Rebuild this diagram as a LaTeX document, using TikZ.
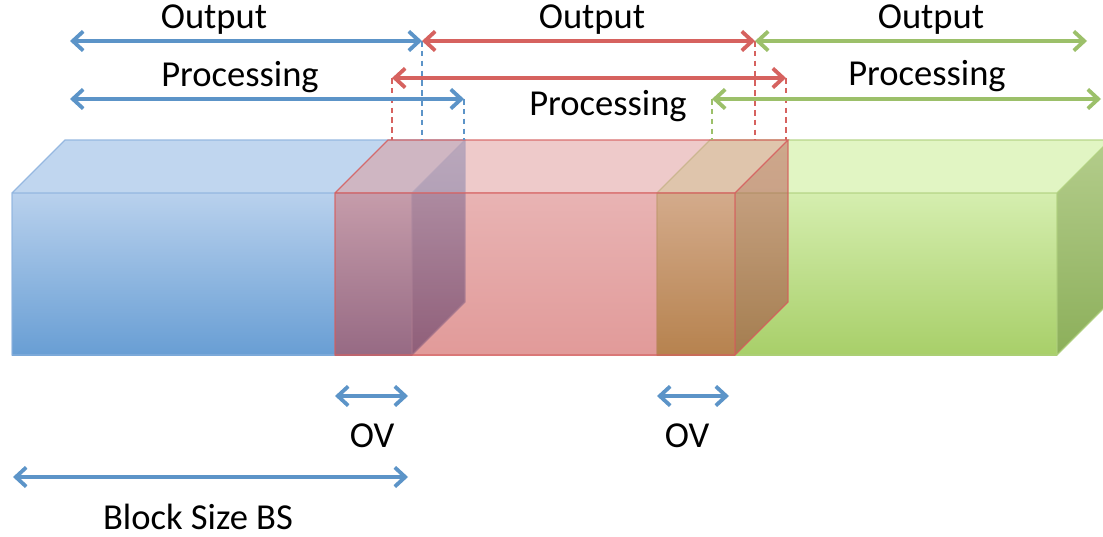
\documentclass[tikz,border=0pt]{standalone}
\usepackage{fontspec}
\setmainfont{Carlito}
\usetikzlibrary{arrows.meta}

\definecolor{bluA}{RGB}{92,148,200}
\definecolor{redA}{RGB}{214,98,95}
\definecolor{grnA}{RGB}{156,192,106}
\definecolor{bluT}{RGB}{185,209,237}
\definecolor{bluB}{RGB}{104,158,212}
\definecolor{bluU}{RGB}{192,214,239}
\definecolor{bluRT}{RGB}{150,185,225}
\definecolor{bluRB}{RGB}{90,135,190}
\definecolor{bluE}{RGB}{140,178,222}
\definecolor{grnT}{RGB}{213,238,175}
\definecolor{grnB}{RGB}{168,207,105}
\definecolor{grnU}{RGB}{225,245,195}
\definecolor{grnRT}{RGB}{180,205,140}
\definecolor{grnRB}{RGB}{140,175,90}
\definecolor{grnE}{RGB}{175,208,125}
\definecolor{redT}{RGB}{211,105,105}
\definecolor{redB}{RGB}{197,55,53}
\definecolor{redU}{RGB}{223,151,151}
\definecolor{redRT}{RGB}{187,92,85}
\definecolor{redRB}{RGB}{162,45,55}
\definecolor{redE}{RGB}{214,92,92}

\begin{document}
\begin{tikzpicture}[x=0.025cm,y=-0.025cm,
  dim/.style={{Straight Barb[length=2.6mm,width=4.8mm]}-{Straight Barb[length=2.6mm,width=4.8mm]},line width=2.7pt},
  guide/.style={dash pattern=on 4pt off 3pt,line width=0.9pt},
  lbl/.style={font=\fontsize{26}{31}\selectfont,anchor=base,inner sep=0pt}]
\clip (0,0) rectangle (1103,537);
\fill[white] (0,0) rectangle (1103,537);
% three blocks, the middle one see-through
\foreach \x/\col/\op in {12/blu/1,657/grn/1,335/red/0.5}{
  \shade[top color=\col T,bottom color=\col B,fill opacity=\op] (\x,193) rectangle (\x+400,355);
  \fill[\col U,fill opacity=\op] (\x,193) -- (\x+53,140) -- (\x+453,140) -- (\x+400,193) -- cycle;
  \shade[top color=\col RT,bottom color=\col RB,fill opacity=\op] (\x+400,193) -- (\x+453,140) -- (\x+453,302) -- (\x+400,355) -- cycle;
  \draw[\col E,line width=0.8pt,draw opacity=0.85] (\x,193) rectangle (\x+400,355)
    (\x,193) -- (\x+53,140) -- (\x+453,140) -- (\x+400,193) (\x+453,140) -- (\x+453,302) -- (\x+400,355);
}
\coordinate (bo1) at (70,41);   \coordinate (bo2) at (422,41);
\coordinate (ro2) at (755,41);  \coordinate (go2) at (1087,41);
\coordinate (bp1) at (70,99);   \coordinate (bp2) at (464,99);
\coordinate (rp1) at (392,78);  \coordinate (rp2) at (786,78);
\coordinate (gp1) at (712,99);  \coordinate (gp2) at (1101,99);
\foreach \c/\col in {bo2/bluA,bp2/bluA,rp1/redA,ro2/redA,rp2/redA,gp1/grnA}
  \draw[guide,\col] (\c) -- (\c |- 0,140);
\draw[dim,bluA] (bo1) -- (bo2);
\draw[dim,redA] (bo2) -- (ro2);
\draw[dim,grnA] (ro2) -- (go2);
\draw[dim,bluA] (bp1) -- (bp2);
\draw[dim,redA] (rp1) -- (rp2);
\draw[dim,grnA] (gp1) -- (gp2);
\node[lbl] (outA) at (214,29) {Output};
\node[lbl] (outB) at (592,29) {Output};
\node[lbl] (outC) at (931,29) {Output};
\node[lbl] (procA) at (240,87) {Processing};
\node[lbl] (procB) at (608,116) {Processing};
\node[lbl] (procC) at (927,86) {Processing};
\coordinate (ov1) at (335,396); \coordinate (ov2) at (408,396);
\coordinate (ov3) at (657,396); \coordinate (ov4) at (729,396);
\coordinate (bs1) at (13,477);  \coordinate (bs2) at (408,477);
\draw[dim,bluA] (ov1) -- (ov2);
\draw[dim,bluA] (ov3) -- (ov4);
\draw[dim,bluA] (bs1) -- (bs2);
\node[lbl] (ovA) at (372,447) {OV};
\node[lbl] (ovB) at (687,447) {OV};
\node[lbl,text depth=0pt] (bs) at (198,529) {Block Size BS};
\end{tikzpicture}
\end{document}
